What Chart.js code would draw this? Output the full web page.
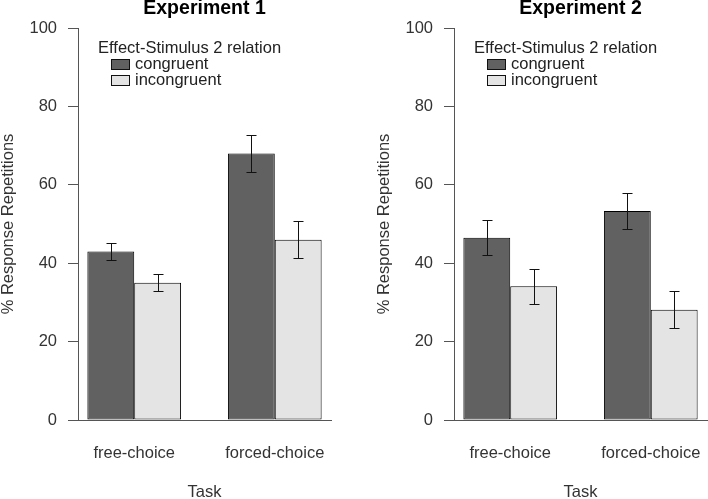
<!DOCTYPE html>
<html>
<head>
<meta charset="utf-8">
<script src="https://cdn.jsdelivr.net/npm/chart.js@4.4.0/dist/chart.umd.min.js"></script>
<style>
  html, body { margin: 0; padding: 0; background: #fff; overflow: hidden; }
  .panel { position: absolute; top: 0; width: 354px; height: 499px; }
  #p1 { left: 0; }
  #p2 { left: 376px; }
</style>
</head>
<body>
<div class="panel" id="p1"><canvas id="exp1"></canvas></div>
<div class="panel" id="p2"><canvas id="exp2"></canvas></div>
<script>
// data
const tasks = ['free-choice', 'forced-choice'];
const relations = ['congruent', 'incongruent'];
const yTicks = [0, 20, 40, 60, 80, 100];

const exp1Congruent = [43.0, 68.0];
const exp1Incongruent = [35.0, 46.0];
const exp1CongruentErr = [2.2, 4.7];
const exp1IncongruentErr = [2.2, 4.8];

const exp2Congruent = [46.5, 53.3];
const exp2Incongruent = [34.1, 28.1];
const exp2CongruentErr = [4.4, 4.7];
const exp2IncongruentErr = [4.4, 4.7];

const legendTitle = 'Effect-Stimulus 2 relation';
const fam = '"Liberation Sans", Arial, Helvetica, sans-serif';
Chart.defaults.font.family = fam;

// R barplot layout: group i centred at 2 + 3*i, axis range 0.8..6.2
function groupX(i) { return 2 + 3 * i; }

const errorBars = {
  id: 'errorBars',
  afterDatasetsDraw(chart) {
    const ctx = chart.ctx;
    const yScale = chart.scales.y;
    ctx.save();
    ctx.strokeStyle = '#111';
    ctx.lineWidth = 1;
    chart.data.datasets.forEach((ds, d) => {
      chart.getDatasetMeta(d).data.forEach((bar, i) => {
        const v = ds.data[i].y;
        const e = ds.errors[i];
        const x = Math.round(bar.x) + 0.5;
        const top = Math.round(yScale.getPixelForValue(v + e)) + 0.5;
        const bot = Math.round(yScale.getPixelForValue(v - e)) + 0.5;
        ctx.beginPath();
        ctx.moveTo(x, top); ctx.lineTo(x, bot);
        ctx.moveTo(x - 5, top); ctx.lineTo(x + 5, top);
        ctx.moveTo(x - 5, bot); ctx.lineTo(x + 5, bot);
        ctx.stroke();
      });
    });
    ctx.restore();
  }
};

// legend drawn inside the plot like R's legend()
const boxLegend = {
  id: 'boxLegend',
  afterDraw(chart) {
    const ctx = chart.ctx;
    const x0 = chart.chartArea.left;
    const y0 = chart.chartArea.top;
    ctx.save();
    ctx.font = '16.5px ' + fam;
    ctx.textBaseline = 'alphabetic';
    ctx.fillStyle = '#222';
    ctx.fillText(legendTitle, x0 + 20, y0 + 24.5);
    chart.data.datasets.forEach((ds, i) => {
      const by = y0 + 31 + i * 16;
      ctx.fillStyle = ds.backgroundColor;
      ctx.fillRect(x0 + 33, by, 19, 11);
      ctx.strokeStyle = '#111';
      ctx.lineWidth = 1;
      ctx.strokeRect(x0 + 33.5, by + 0.5, 18, 10);
      ctx.fillStyle = '#222';
      ctx.fillText(ds.label, x0 + 57, by + 9.5);
    });
    ctx.restore();
  }
};

function makeChart(id, title, cong, incong, congErr, incongErr) {
  const el = document.getElementById(id);
  return new Chart(el, {
    type: 'bar',
    data: {
      datasets: [
        {
          label: relations[0],
          data: cong.map((v, i) => ({ x: groupX(i), y: v })),
          errors: congErr,
          backgroundColor: '#616161'
        },
        {
          label: relations[1],
          data: incong.map((v, i) => ({ x: groupX(i), y: v })),
          errors: incongErr,
          backgroundColor: '#e4e4e4'
        }
      ]
    },
    options: {
      responsive: true,
      maintainAspectRatio: false,
      animation: false,
      layout: { padding: { left: 0, top: 0, bottom: 0, right: 23 } },
      datasets: {
        bar: {
          categoryPercentage: 2 / 3,
          barPercentage: 1,
          borderWidth: 1,
          borderColor: '#000',
          borderSkipped: false
        }
      },
      plugins: {
        legend: { display: false },
        tooltip: { enabled: false },
        title: {
          display: true,
          text: title,
          fullSize: false,
          color: '#000',
          font: { size: 19.5, weight: 'bold', lineHeight: 0.9 },
          padding: { top: 0, bottom: 28 - 17.55 }
        }
      },
      scales: {
        x: {
          type: 'linear',
          min: 0.8,
          max: 6.2,
          offset: false,
          afterBuildTicks: axis => { axis.ticks = tasks.map((t, i) => ({ value: groupX(i) })); },
          afterFit: s => { s.height = 79; },
          ticks: {
            callback: (v, i) => tasks[i],
            autoSkip: false,
            maxRotation: 0,
            padding: 24,
            color: '#333',
            font: { size: 16.5 }
          },
          grid: { display: true, drawOnChartArea: false, drawTicks: false, color: 'transparent' },
          border: { display: true, color: '#555', width: 1 },
          title: {
            display: true,
            text: 'Task',
            color: '#333',
            font: { size: 16.5, lineHeight: 0.8 },
            padding: 0
          }
        },
        y: {
          min: 0,
          max: 100,
          afterBuildTicks: axis => { axis.ticks = yTicks.map(v => ({ value: v })); },
          afterFit: s => { s.width = 78; },
          ticks: { padding: 11, color: '#333', font: { size: 16.5 } },
          grid: { drawOnChartArea: false, tickLength: 10, color: '#555' },
          border: { display: true, color: '#555', width: 1 },
          title: {
            display: true,
            text: '% Response Repetitions',
            color: '#333',
            font: { size: 16.5, lineHeight: 1 },
            padding: 0
          }
        }
      }
    },
    plugins: [errorBars, boxLegend]
  });
}

makeChart('exp1', 'Experiment 1', exp1Congruent, exp1Incongruent, exp1CongruentErr, exp1IncongruentErr);
makeChart('exp2', 'Experiment 2', exp2Congruent, exp2Incongruent, exp2CongruentErr, exp2IncongruentErr);
</script>
</body>
</html>
